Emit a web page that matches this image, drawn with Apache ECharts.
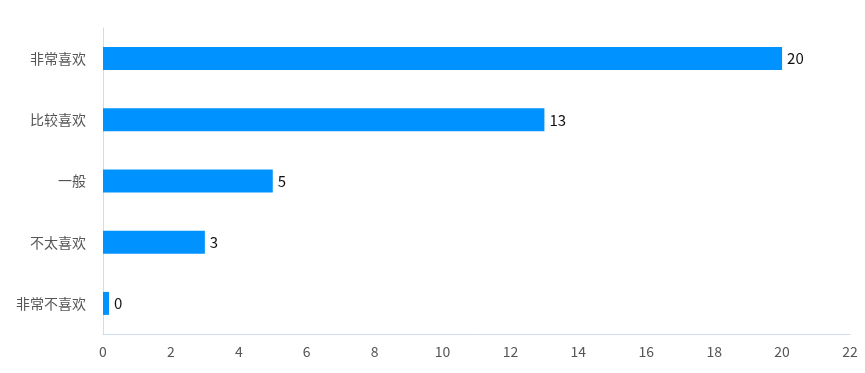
<!DOCTYPE html>
<html><head><meta charset="utf-8">
<script src="https://cdn.jsdelivr.net/npm/echarts@6/dist/echarts.min.js"></script>
<style>html,body{margin:0;padding:0;background:#fff}#c{width:865px;height:373px}</style>
</head><body><div id="c"></div>
<script>
const categories = ['非常不喜欢', '不太喜欢', '一般', '比较喜欢', '非常喜欢'];
const values = [0, 3, 5, 13, 20];
const xTicks = {min: 0, max: 22, interval: 2};

const chart = echarts.init(document.getElementById('c'), null, {renderer: 'canvas'});
chart.setOption({
  animation: false,
  textStyle: {fontFamily: '"Noto Sans CJK SC", "Noto Sans", sans-serif'},
  grid: {left: 103, right: 15, top: 28, bottom: 39, containLabel: false},
  xAxis: {
    type: 'value', min: xTicks.min, max: xTicks.max, interval: xTicks.interval,
    axisLine: {show: true, lineStyle: {color: '#cfdaf3', width: 1}},
    axisTick: {show: false},
    splitLine: {show: false},
    axisLabel: {color: '#555', fontSize: 14, margin: 11}
  },
  yAxis: {
    type: 'category', data: categories,
    axisLine: {show: true, lineStyle: {color: '#cfdaf3', width: 1}},
    axisTick: {show: false},
    axisLabel: {color: '#555', fontSize: 14, margin: 17}
  },
  series: [{
    type: 'bar', data: values, barWidth: 23, barMinHeight: 6,
    itemStyle: {color: '#0092ff'},
    label: {show: true, position: 'right', color: '#111', fontSize: 15, distance: 5}
  }]
});
</script></body></html>
